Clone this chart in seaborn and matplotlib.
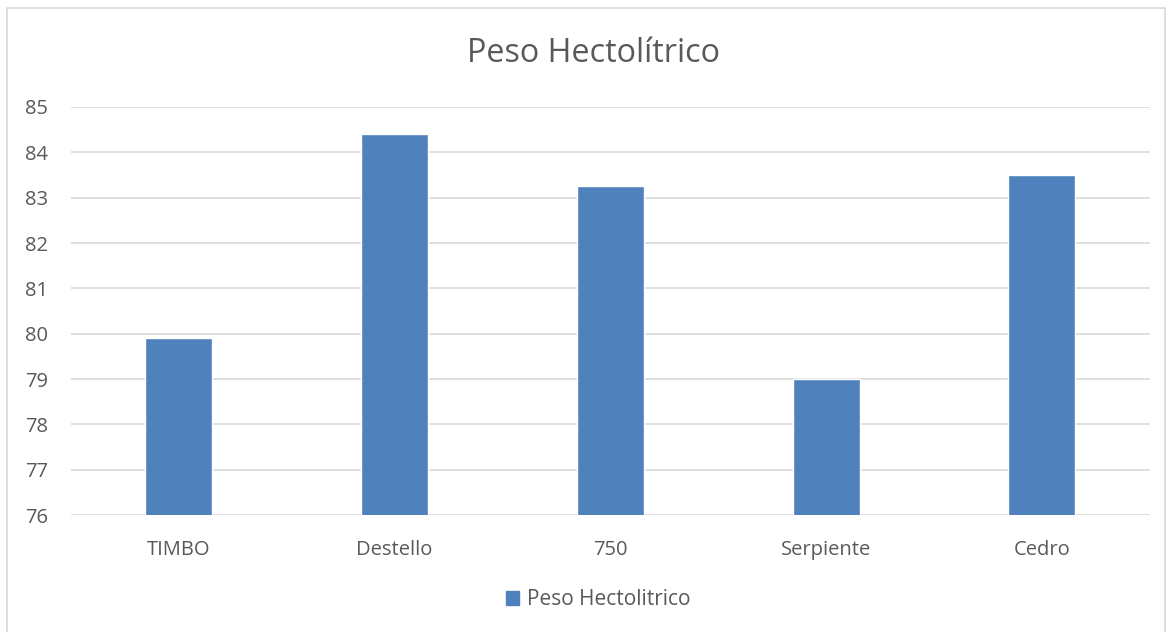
import matplotlib
matplotlib.use("Agg")
import matplotlib.pyplot as plt
import matplotlib.patches as mpatches
import pandas as pd
import seaborn as sns

# datos
variedades = ["TIMBO", "Destello", "750", "Serpiente", "Cedro"]
peso_hl = [79.9, 84.4, 83.25, 79.0, 83.5]
serie = "Peso Hectolitrico"

df = pd.DataFrame({"variedad": variedades, "peso": peso_hl, "serie": serie})

sns.set_style("white")
plt.rcParams["font.family"] = ["Open Sans", "DejaVu Sans"]
gris = "#595959"
azul = "#4f81bd"

fig = plt.figure(figsize=(11.7, 6.32), dpi=100)
ax = fig.add_axes([0.0607, 0.185, 0.922, 0.6457])

sns.barplot(data=df, x="variedad", y="peso", hue="serie", palette=[azul],
            saturation=1, width=0.31, ax=ax, legend=False, zorder=3)

ax.set_ylim(76, 85)
ax.set_yticks(range(76, 86))
ax.set_xlim(-0.5, 4.5)
ax.grid(axis="y", color="#d9d9d9", linewidth=1.2, zorder=0)
for s in ax.spines.values():
    s.set_visible(False)
ax.set_xlabel("")
ax.set_ylabel("")
ax.tick_params(axis="both", length=0, labelsize=14.5, labelcolor=gris)
ax.tick_params(axis="y", pad=33)
ax.tick_params(axis="x", pad=18)
for lbl in ax.get_yticklabels():
    lbl.set_horizontalalignment("left")

fig.text(0.507, 0.915, "Peso Hectolítrico", ha="center", va="center",
         fontsize=23.3, color=gris)

handle = mpatches.Patch(color=azul, label=serie)
fig.legend(handles=[handle], loc="center", bbox_to_anchor=(0.511, 0.051),
           frameon=False, fontsize=15, labelcolor=gris, handlelength=0.65,
           handleheight=0.65, handletextpad=0.35)

# borde del area del grafico
borde = mpatches.Rectangle((0.006, -0.02), 0.99, 1.007, transform=fig.transFigure,
                           fill=False, edgecolor="#d9d9d9", linewidth=1.2)
fig.patches.append(borde)

fig.savefig("out.png", dpi=100)
